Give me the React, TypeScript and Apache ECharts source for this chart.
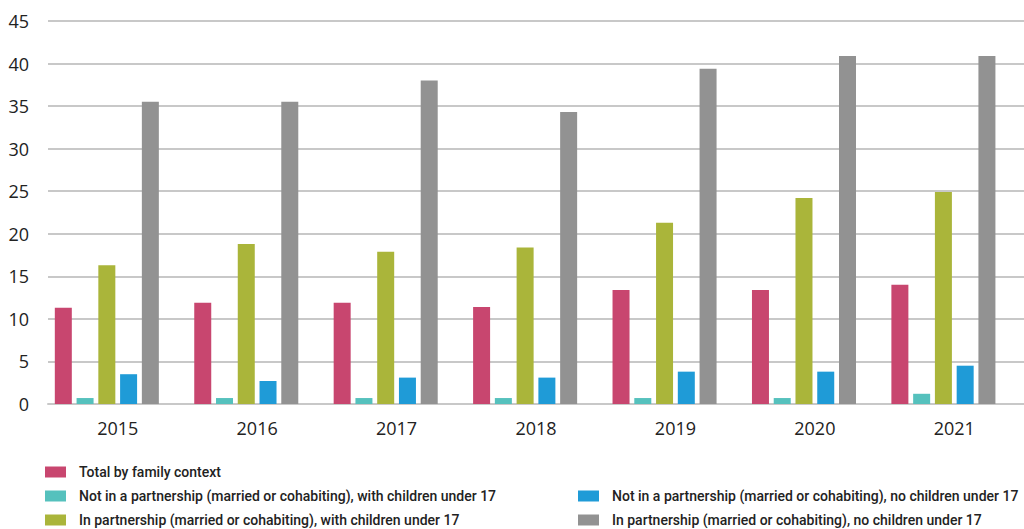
import React, { useEffect, useRef } from "react";
import * as echarts from "echarts";

const years = ["2015", "2016", "2017", "2018", "2019", "2020", "2021"];
const yTicks = [0, 5, 10, 15, 20, 25, 30, 35, 40, 45];

const seriesNames = [
  "Total by family context",
  "Not in a partnership (married or cohabiting), with children under 17",
  "In partnership (married or cohabiting), with children under 17",
  "Not in a partnership (married or cohabiting), no children under 17",
  "In partnership (married or cohabiting), no children under 17",
];
const seriesColors = ["#C8466F", "#55C1BD", "#AAB53A", "#1F9BD7", "#929292"];

const totalByFamily = [11.3, 11.9, 11.9, 11.4, 13.4, 13.4, 14.0];
const singleWithChildren = [0.7, 0.7, 0.7, 0.7, 0.7, 0.7, 1.2];
const partnerWithChildren = [16.3, 18.8, 17.9, 18.4, 21.3, 24.2, 24.9];
const singleNoChildren = [3.5, 2.7, 3.1, 3.1, 3.8, 3.8, 4.5];
const partnerNoChildren = [35.5, 35.5, 38.0, 34.3, 39.4, 40.9, 40.9];

const seriesValues = [
  totalByFamily,
  singleWithChildren,
  partnerWithChildren,
  singleNoChildren,
  partnerNoChildren,
];

// legend slot for each series: [left, row center]
const legendSlots = [
  [40, 472],
  [40, 496],
  [40, 520],
  [573, 496],
  [573, 520],
];

export default function App() {
  const ref = useRef<HTMLDivElement>(null);
  useEffect(() => {
    if (!ref.current) return;
    const chart = echarts.init(ref.current, null, { renderer: "svg" });
    const legendText = {
      fontFamily: "Roboto",
      fontSize: 14,
      fontWeight: 500,
      color: "#222",
      padding: [0, 0, 0, 8],
    };
    const bars: any[] = seriesNames.map((name, i) => ({
      name,
      type: "bar",
      data: seriesValues[i],
      barWidth: 17,
      barGap: "28%",
      itemStyle: { color: seriesColors[i] },
    }));
    // empty spacer slot (as in the original chart layout)
    bars.push({
      name: "spacer",
      type: "bar",
      data: [],
      barWidth: 17,
      barGap: "28%",
      silent: true,
    });
    chart.setOption({
      animation: false,
      textStyle: { fontFamily: "Open Sans" },
      grid: { left: 48, right: 0, top: 21, bottom: 125 },
      legend: seriesNames.map((name, i) => ({
        data: [name],
        left: legendSlots[i][0],
        top: legendSlots[i][1] - 11,
        width: 1000,
        padding: [4, 5, 0, 5],
        itemWidth: 21,
        itemHeight: 11,
        icon: "rect",
        textStyle: legendText,
        selectedMode: false,
      })),
      xAxis: {
        type: "category",
        data: years,
        axisTick: { show: false },
        axisLine: { lineStyle: { color: "#c8c8c8", width: 2 } },
        axisLabel: { color: "#222", fontSize: 18, margin: 15, fontFamily: "Open Sans" },
      },
      yAxis: {
        type: "value",
        min: yTicks[0],
        max: yTicks[yTicks.length - 1],
        interval: 5,
        axisLine: { show: false },
        axisTick: { show: false },
        splitLine: { lineStyle: { color: "#c8c8c8", width: 2 } },
        axisLabel: { color: "#222", fontSize: 18, margin: 19, fontFamily: "Open Sans" },
      },
      series: bars,
    });
    return () => chart.dispose();
  }, []);
  return (
    <div
      ref={ref}
      style={{ position: "absolute", left: 0, top: 0, width: 1024, height: 529 }}
    />
  );
}
